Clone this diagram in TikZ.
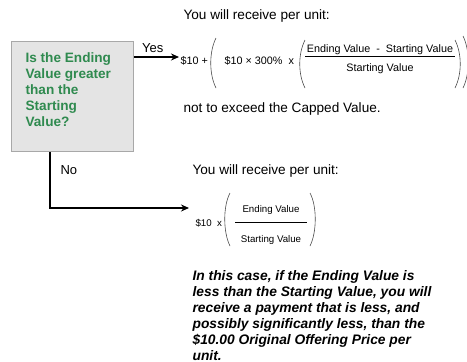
\documentclass[tikz,border=0pt]{standalone}
\usepackage{fontspec}
\setmainfont{Liberation Sans}
\usetikzlibrary{positioning,arrows.meta}
\definecolor{askgreen}{RGB}{47,138,79}
\definecolor{askfill}{RGB}{228,228,228}
\definecolor{askline}{RGB}{168,168,168}

\begin{document}
\begin{tikzpicture}[x=1pt,y=-1pt,>={Stealth[length=8pt,width=7pt]},line width=1.2pt,
        ask node/.style={draw=askline,fill=askfill,line width=0.8pt,minimum width=122pt,minimum height=110pt,inner sep=0pt},
        body text/.style={font=\fontsize{13.6}{16}\selectfont,inner sep=0pt,align=left},
        formula text/.style={font=\fontsize{10.8}{12}\selectfont,inner sep=1pt},
        small formula/.style={font=\fontsize{9.7}{11}\selectfont,inner sep=1pt},
        paren/.style={draw=black!70,line width=0.6pt}]

                    \useasboundingbox (0,0) rectangle (467,362);

                    \node[ask node, anchor=north west] (ask) at (11,41) {};
                    \node[body text, font=\fontsize{13.6}{16}\bfseries, text=askgreen, anchor=north west] (asktext) at (25,52)
                        {Is the Ending\\Value greater\\than the\\Starting\\Value?};

                    \coordinate (yesend) at (179,57);
                    \coordinate (noend) at (189,208);

                    \node[body text, anchor=base west] (yesintro) at (183,19) {You will receive per unit:};
                    \node[formula text, anchor=west] (yesbase) at (179,61) {\$10~+};
                    \node[formula text, anchor=west] (yesrate) at (223,61) {\$10~×~300\%~~x};
                    \node[formula text] (yesnum) at (380,50) {Ending Value~~-~~Starting Value};
                    \node[formula text] (yesden) at (380,69) {Starting Value};
                    \node[body text, anchor=base west] (yescap) at (183,112) {not to exceed the Capped Value.};

                    \node[body text, anchor=base west] (nointro) at (192,174) {You will receive per unit:};
                    \node[small formula, anchor=west] (nobase) at (194,223) {\$10~~x};
                    \node[small formula] (nonum) at (271,210) {Ending Value};
                    \node[small formula] (noden) at (271,240) {Starting Value};
                    \node[body text, font=\fontsize{13.8}{16}\bfseries\itshape, anchor=north west] (nonote) at (192,270)
                        {In this case, if the Ending Value is\\less than the Starting Value, you will\\receive a payment that is less, and\\possibly significantly less, than the\\\$10.00 Original Offering Price per\\unit.};

                    \draw[->] (ask.east |- yesend) to node[body text, font=\fontsize{13}{16}\selectfont, above=4pt, pos=0.42] (yes) {Yes} (yesend);
                    \draw[->] ([xshift=39pt]ask.south west) |- node[body text, font=\fontsize{13}{16}\selectfont, right=10pt, pos=0.16] (no) {No} (noend);

                    \draw[line width=0.7pt] (yesnum.south west) -- (yesnum.south east);
                    \draw[line width=0.7pt] (235,222) -- (307,222);

                    \draw[paren] (216,38) .. controls (209,52) and (209,74) .. (216,88);
                    \draw[paren] (305,40) .. controls (298,54) and (298,74) .. (305,88);
                    \draw[paren] (455,40) .. controls (462,54) and (462,74) .. (455,88);
                    \draw[paren] (463,36) .. controls (470,50) and (470,74) .. (463,88);
                    \draw[paren] (230,193) .. controls (223,206) and (223,232) .. (230,246);
                    \draw[paren] (310,193) .. controls (317,206) and (317,232) .. (310,246);
                \end{tikzpicture}
\end{document}
